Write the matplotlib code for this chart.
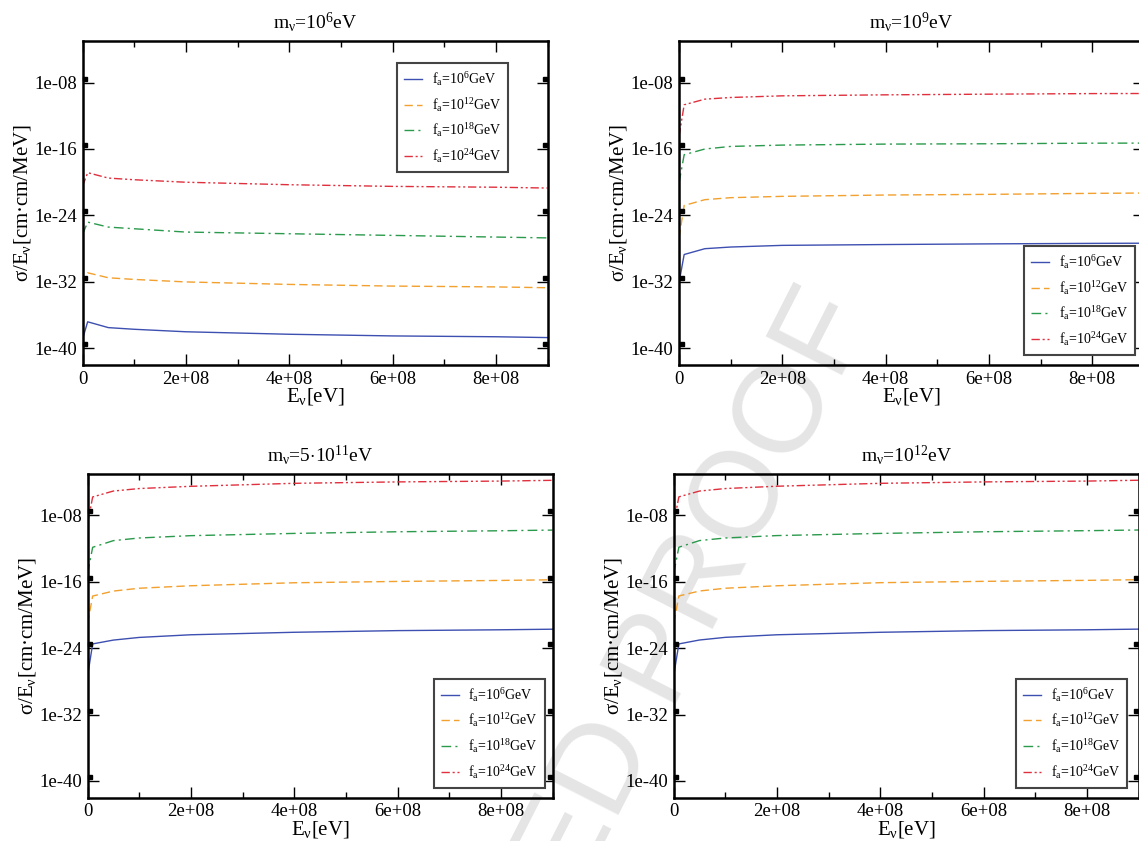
import numpy as np
import matplotlib
matplotlib.use("Agg")
import matplotlib.pyplot as plt
from matplotlib.ticker import FixedLocator, FixedFormatter, NullLocator
from matplotlib.transforms import offset_copy

plt.rcParams['font.family'] = ['Liberation Serif', 'DejaVu Serif']
plt.rcParams['mathtext.fontset'] = 'custom'
plt.rcParams['mathtext.rm'] = 'Liberation Serif'
plt.rcParams['mathtext.it'] = 'Liberation Serif:italic'
plt.rcParams['mathtext.bf'] = 'Liberation Serif:bold'

# ---------------- data (log10 of sigma/E) ----------------
E_eV = [0, 1e7, 5e7, 1e8, 2e8, 4e8, 6e8, 8e8, 9e8]

# m_nu = 1e6 eV
m6_fa6  = [-38.9, -36.8, -37.5, -37.7, -38.0, -38.3, -38.5, -38.6, -38.7]
m6_fa12 = [-32.3, -30.9, -31.5, -31.7, -32.0, -32.3, -32.5, -32.6, -32.7]
m6_fa18 = [-26.3, -24.8, -25.4, -25.6, -26.0, -26.2, -26.4, -26.6, -26.7]
m6_fa24 = [-20.5, -18.85, -19.5, -19.7, -20.0, -20.3, -20.5, -20.6, -20.7]

# m_nu = 1e9 eV
m9_fa6  = [-32.1, -28.7, -28.0, -27.8, -27.6, -27.5, -27.42, -27.36, -27.34]
m9_fa12 = [-26.7, -22.8, -22.1, -21.86, -21.7, -21.54, -21.46, -21.34, -21.3]
m9_fa18 = [-20.1, -16.69, -16.0, -15.69, -15.53, -15.41, -15.37, -15.3, -15.29]
m9_fa24 = [-14.49, -10.68, -10.0, -9.8, -9.6, -9.48, -9.4, -9.33, -9.32]

# m_nu = 5e11 eV
m5e11_fa6  = [-27.4, -23.5, -23.04, -22.72, -22.4, -22.1, -21.9, -21.8, -21.73]
m5e11_fa12 = [-21.05, -17.74, -17.14, -16.8, -16.5, -16.14, -15.98, -15.86, -15.78]
m5e11_fa18 = [-15.06, -11.87, -11.07, -10.75, -10.47, -10.2, -10.0, -9.88, -9.8]
m5e11_fa24 = [-9.08, -5.81, -5.1, -4.8, -4.53, -4.17, -4.0, -3.9, -3.81]

# m_nu = 1e12 eV
m12_fa6  = [-27.3, -23.5, -23.03, -22.71, -22.4, -22.1, -21.9, -21.8, -21.72]
m12_fa12 = [-21.0, -17.73, -17.13, -16.8, -16.5, -16.13, -15.97, -15.85, -15.77]
m12_fa18 = [-15.0, -11.86, -11.06, -10.75, -10.46, -10.2, -10.0, -9.87, -9.79]
m12_fa24 = [-9.0, -5.8, -5.1, -4.8, -4.52, -4.17, -4.0, -3.9, -3.8]

titles = [r'm$_{\mathrm{\nu}}$=10$^{6}$eV', r'm$_{\mathrm{\nu}}$=10$^{9}$eV',
          r'm$_{\mathrm{\nu}}$=5$\cdot$10$^{11}$eV', r'm$_{\mathrm{\nu}}$=10$^{12}$eV']
legend_labels = [r'f$_{\mathrm{a}}$=10$^{6}$GeV', r'f$_{\mathrm{a}}$=10$^{12}$GeV',
                 r'f$_{\mathrm{a}}$=10$^{18}$GeV', r'f$_{\mathrm{a}}$=10$^{24}$GeV']
ytick_vals = [1e-40, 1e-32, 1e-24, 1e-16, 1e-08]
ytick_labels = ['1e-40', '1e-32', '1e-24', '1e-16', '1e-08']
xtick_vals = [0, 2e8, 4e8, 6e8, 8e8]
xtick_labels = ['0', '2e+08', '4e+08', '6e+08', '8e+08']
xminor_vals = [1e8, 3e8, 5e8, 7e8, 9e8]

panels = [
    (titles[0], [m6_fa6, m6_fa12, m6_fa18, m6_fa24]),
    (titles[1], [m9_fa6, m9_fa12, m9_fa18, m9_fa24]),
    (titles[2], [m5e11_fa6, m5e11_fa12, m5e11_fa18, m5e11_fa24]),
    (titles[3], [m12_fa6, m12_fa12, m12_fa18, m12_fa24]),
]

colors = ['#3d4fb0', '#f2a02e', '#2b9a4c', '#e0303e']
dashes = [None, (6, 3), (7, 3, 1.5, 3), (6, 2, 1.5, 2, 1.5, 2)]

W, H = 1139, 841
fig = plt.figure(figsize=(W / 100, H / 100), dpi=100)

ax_px = [(82.5, 41), (679, 41), (87.5, 473.6), (673.7, 473.6)]
aw, ah = 465, 324
legend_specs = [('upper right', (0.915, 0.932)), ('lower right', (0.981, 0.031)),
                ('lower right', (0.983, 0.031)), ('lower right', (0.975, 0.031))]

# watermark
fig.text(0.452, -0.127, 'UNCORRECTED PROOF', rotation=63, rotation_mode='anchor',
         ha='center', va='center', fontsize=90, color='#e5e5e5',
         family='Liberation Sans', zorder=-5)

for i, (title, series) in enumerate(panels):
    x0, y0 = ax_px[i]
    ax = fig.add_axes([x0 / W, (H - y0 - ah) / H, aw / W, ah / H])
    ax.set_facecolor('none')
    ax.set_yscale('log')
    for s, c, d, lab in zip(series, colors, dashes, legend_labels):
        yv = 10.0 ** np.array(s)
        ln, = ax.plot(E_eV, yv, color=c, lw=1.0, label=lab)
        if d is not None:
            ln.set_dashes(d)
    ax.set_xlim(0, 9e8)
    ax.set_ylim(1e-42, 1e-3)
    ax.xaxis.set_major_locator(FixedLocator(xtick_vals))
    ax.xaxis.set_major_formatter(FixedFormatter(xtick_labels))
    ax.xaxis.set_minor_locator(FixedLocator(xminor_vals))
    ax.yaxis.set_major_locator(FixedLocator(ytick_vals))
    ax.yaxis.set_major_formatter(FixedFormatter(ytick_labels))
    ax.yaxis.set_minor_locator(NullLocator())
    ax.tick_params(which='both', direction='in', top=True, right=True,
                   labelsize=13.5, width=1.0, color='k')
    ax.tick_params(which='major', length=8, pad=4)
    ax.tick_params(which='minor', length=4)
    for sp in ax.spines.values():
        sp.set_linewidth(1.8)
    ax.set_title(title, fontsize=14, pad=9)
    ax.set_xlabel(r'E$_{\mathrm{\nu}}$[eV]', fontsize=15, labelpad=-1)
    ax.set_ylabel(r'σ/E$_{\mathrm{\nu}}$[cm·cm/MeV]', fontsize=15, labelpad=1)

    # small black squares at the major y ticks (rendering artefacts of the original)
    ytr = ax.get_yaxis_transform()
    trL = offset_copy(ytr, fig=fig, x=2.5, y=4, units='dots')
    trR = offset_copy(ytr, fig=fig, x=-2.5, y=4, units='dots')
    ax.plot([0] * len(ytick_vals), ytick_vals, ls='none', marker='s', ms=3.4,
            color='k', transform=trL, clip_on=False)
    ax.plot([1] * len(ytick_vals), ytick_vals, ls='none', marker='s', ms=3.4,
            color='k', transform=trR, clip_on=False)

    loc, anchor = legend_specs[i]
    leg = ax.legend(loc=loc, bbox_to_anchor=anchor, borderaxespad=0, fontsize=10,
                    fancybox=False, edgecolor='#444444', framealpha=1,
                    handlelength=1.3, handletextpad=0.7, labelspacing=0.55,
                    borderpad=0.5)
    leg.get_frame().set_linewidth(1.5)

fig.savefig('out.png', dpi=100)
